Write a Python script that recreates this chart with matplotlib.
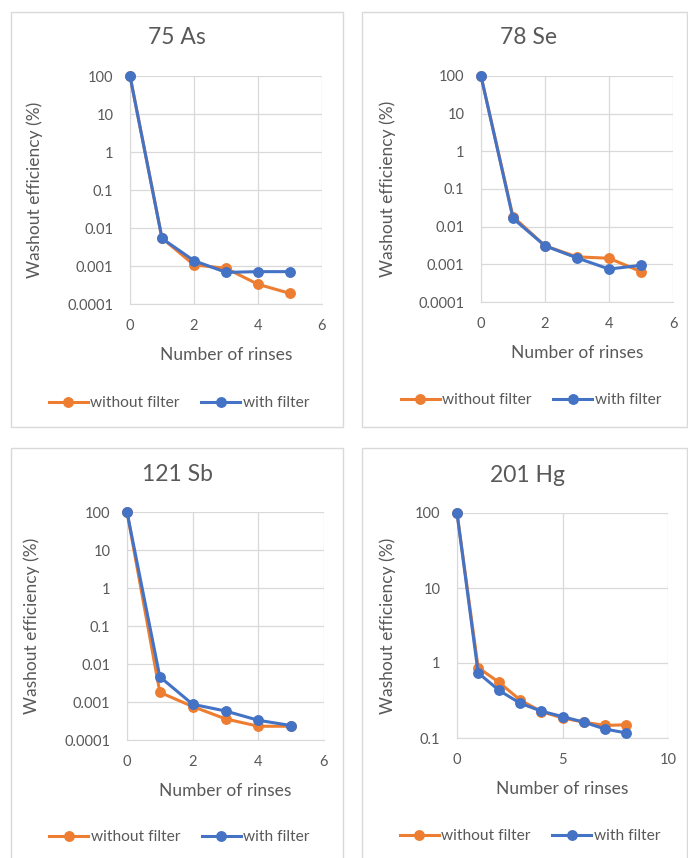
import matplotlib
matplotlib.use("Agg")
import matplotlib.pyplot as plt
from matplotlib.patches import Rectangle

plt.rcParams['font.family'] = ['Lato', 'DejaVu Sans']

# ---- data ----
titles = ["75 As", "78 Se", "121 Sb", "201 Hg"]
rinses_short = [0, 1, 2, 3, 4, 5]
rinses_hg = [0, 1, 2, 3, 4, 5, 6, 7, 8]

as_without = [100, 0.0054, 0.00107, 0.00087, 0.00033, 0.00019]
as_with = [100, 0.0053, 0.00138, 0.00068, 0.00071, 0.00071]

se_without = [100, 0.0185, 0.0031, 0.00158, 0.00145, 0.00064]
se_with = [100, 0.0166, 0.0031, 0.00148, 0.00075, 0.00094]

sb_without = [100, 0.0018, 0.00076, 0.00036, 0.00023, 0.00023]
sb_with = [100, 0.0046, 0.00087, 0.00058, 0.00033, 0.00024]

hg_without = [100, 0.87, 0.55, 0.32, 0.225, 0.185, 0.163, 0.147, 0.15]
hg_with = [100, 0.74, 0.43, 0.29, 0.228, 0.193, 0.163, 0.132, 0.117]

series_labels = ["without filter", "with filter"]
ylabel = "Washout efficiency (%)"
xlabel = "Number of rinses"

ticks_short_y = [0.0001, 0.001, 0.01, 0.1, 1, 10, 100]
ticklabels_short_y = ["0.0001", "0.001", "0.01", "0.1", "1", "10", "100"]
ticks_hg_y = [0.1, 1, 10, 100]
ticklabels_hg_y = ["0.1", "1", "10", "100"]
ticks_short_x = [0, 2, 4, 6]
ticks_hg_x = [0, 5, 10]

# ---- style ----
W, H = 688, 858
ORANGE = "#ED7D31"
BLUE = "#4472C4"
TXT = "#595959"
GRID = "#D9D9D9"
BORDER = "#D9D9D9"

fig = plt.figure(figsize=(W / 100, H / 100), dpi=100)
fig.patch.set_facecolor("white")


def fx(x):
    return x / W


def fy(y):
    return 1 - y / H


# panel borders (pixel boxes: x0, y0, x1, y1)
borders = [(11, 12, 343, 427), (362, 12, 687, 427), (11, 448, 343, 870), (362, 448, 687, 870)]
for (x0, y0, x1, y1) in borders:
    fig.patches.append(Rectangle((fx(x0), fy(y1)), fx(x1 - x0), (y1 - y0) / H,
                                 transform=fig.transFigure, fill=False,
                                 edgecolor=BORDER, linewidth=1.0, zorder=0))

# axes pixel boxes (x0, y0, x1, y1)
axboxes = [(130, 76, 322, 304), (481, 76, 673, 302), (127, 512, 324, 740), (457, 513, 668, 738)]
title_pos = [(177, 38), (528, 37), (177, 475), (528, 476)]
ylabel_x = [43, 396, 40, 396]
legend_pos = [(179, 403), (531, 400), (179.5, 837), (530, 836)]

panel_data = [
    (rinses_short, as_without, as_with, (0, 6), (0.0001, 100), ticks_short_x, ticks_short_y, ticklabels_short_y),
    (rinses_short, se_without, se_with, (0, 6), (0.0001, 100), ticks_short_x, ticks_short_y, ticklabels_short_y),
    (rinses_short, sb_without, sb_with, (0, 6), (0.0001, 100), ticks_short_x, ticks_short_y, ticklabels_short_y),
    (rinses_hg, hg_without, hg_with, (0, 10), (0.1, 100), ticks_hg_x, ticks_hg_y, ticklabels_hg_y),
]

for i, ((x0, y0, x1, y1), (xs, ywo, yw, xl, yl, xt, yt, ytl)) in enumerate(zip(axboxes, panel_data)):
    ax = fig.add_axes([fx(x0), fy(y1), fx(x1 - x0), (y1 - y0) / H])
    ax.set_yscale("log")
    ax.plot(xs, ywo, color=ORANGE, lw=2.2, marker="o", ms=6.8, label=series_labels[0],
            clip_on=False, zorder=3)
    ax.plot(xs, yw, color=BLUE, lw=2.2, marker="o", ms=6.8, label=series_labels[1],
            clip_on=False, zorder=4)
    ax.set_xlim(*xl)
    ax.set_ylim(*yl)
    ax.set_xticks(xt)
    ax.set_xticklabels([str(t) for t in xt])
    ax.set_yticks(yt)
    ax.set_yticklabels(ytl)
    ax.yaxis.set_minor_locator(matplotlib.ticker.NullLocator())
    ax.grid(True, color=GRID, lw=0.9, zorder=0)
    ax.set_axisbelow(True)
    for s in ax.spines.values():
        s.set_visible(False)
    ax.spines['left'].set_visible(True)
    ax.spines['bottom'].set_visible(True)
    ax.spines['left'].set_color(GRID)
    ax.spines['bottom'].set_color(GRID)
    ax.tick_params(axis='y', length=0, labelsize=10.5, labelcolor=TXT, pad=12)
    ax.tick_params(axis='x', length=0, labelsize=10.5, labelcolor=TXT, pad=11)
    ax.set_xlabel(xlabel, fontsize=12.5, color=TXT, labelpad=10)
    ax.set_ylabel(ylabel, fontsize=12.5, color=TXT)
    ax.yaxis.set_label_coords((ylabel_x[i] - x0) / (x1 - x0), 0.5)

    tx, ty = title_pos[i]
    fig.text(fx(tx), fy(ty), titles[i], fontsize=16.5, color=TXT, ha="center", va="center")

    lx, ly = legend_pos[i]
    ax.legend(loc="center", bbox_to_anchor=(fx(lx), fy(ly)), bbox_transform=fig.transFigure,
              ncol=2, frameon=False, fontsize=11.2, handlelength=2.5, handletextpad=0.15,
              columnspacing=1.4, labelcolor=TXT, borderpad=0, borderaxespad=0)

fig.savefig("out.png", dpi=100, facecolor="white")
